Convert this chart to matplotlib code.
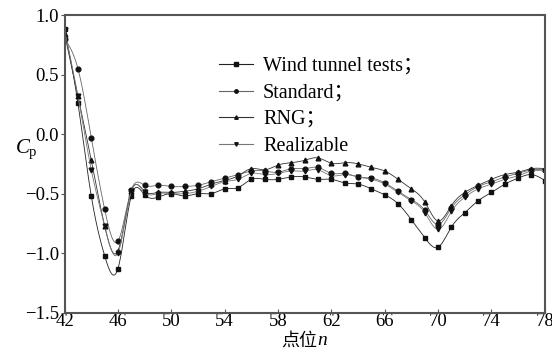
import numpy as np
import matplotlib.pyplot as plt
from matplotlib.lines import Line2D

plt.rcParams['font.family'] = ['Liberation Serif', 'Noto Sans CJK SC']
plt.rcParams['mathtext.fontset'] = 'custom'
plt.rcParams['mathtext.rm'] = 'Liberation Serif'
plt.rcParams['mathtext.it'] = 'Liberation Serif:italic'

# 测点编号
n = np.arange(42, 79)

wind = [0.88, 0.26, -0.52, -1.02, -1.13, -0.52, -0.51, -0.53, -0.50, -0.52,
        -0.50, -0.50, -0.46, -0.45, -0.38, -0.38, -0.38, -0.36, -0.36, -0.38,
        -0.38, -0.41, -0.42, -0.46, -0.51, -0.585, -0.72, -0.87, -0.95, -0.78,
        -0.66, -0.56, -0.49, -0.42, -0.37, -0.34, -0.39]
standard = [0.80, 0.55, -0.03, -0.63, -0.90, -0.47, -0.43, -0.43, -0.44, -0.44,
            -0.43, -0.40, -0.37, -0.34, -0.31, -0.31, -0.32, -0.29, -0.29, -0.28,
            -0.33, -0.33, -0.36, -0.37, -0.41, -0.48, -0.55, -0.64, -0.76, -0.62,
            -0.51, -0.44, -0.40, -0.36, -0.33, -0.30, -0.30]
rng = [0.84, 0.32, -0.22, -0.77, -0.98, -0.48, -0.48, -0.49, -0.49, -0.48,
       -0.46, -0.42, -0.39, -0.35, -0.29, -0.30, -0.26, -0.24, -0.22, -0.20,
       -0.245, -0.24, -0.25, -0.28, -0.31, -0.38, -0.46, -0.57, -0.73, -0.60,
       -0.49, -0.43, -0.38, -0.34, -0.32, -0.29, -0.29]
realizable = [0.87, 0.32, -0.30, -0.77, -1.00, -0.48, -0.49, -0.50, -0.50, -0.50,
              -0.48, -0.44, -0.40, -0.38, -0.33, -0.34, -0.33, -0.31, -0.31, -0.30,
              -0.35, -0.34, -0.36, -0.38, -0.42, -0.49, -0.56, -0.66, -0.80, -0.65,
              -0.53, -0.46, -0.42, -0.38, -0.35, -0.31, -0.31]

labels = ['Wind tunnel tests\uff1b', 'Standard\uff1b', 'RNG\uff1b', 'Realizable']
markers = ['s', 'o', '^', 'v']
colors = ['#222222', '#666666', '#333333', '#777777']
xticks = np.arange(42, 79, 4)
yticks = [1.0, 0.5, 0.0, -0.5, -1.0, -1.5]


def spline(x, y, num=600):
    # 自然三次样条
    x = np.asarray(x, float)
    y = np.asarray(y, float)
    k = len(x)
    h = np.diff(x)
    A = np.zeros((k, k))
    b = np.zeros(k)
    A[0, 0] = 1
    A[-1, -1] = 1
    for i in range(1, k - 1):
        A[i, i - 1] = h[i - 1]
        A[i, i] = 2 * (h[i - 1] + h[i])
        A[i, i + 1] = h[i]
        b[i] = 3 * ((y[i + 1] - y[i]) / h[i] - (y[i] - y[i - 1]) / h[i - 1])
    c = np.linalg.solve(A, b)
    xs = np.linspace(x[0], x[-1], num)
    idx = np.clip(np.searchsorted(x, xs) - 1, 0, k - 2)
    dx = xs - x[idx]
    bb = (y[idx + 1] - y[idx]) / h[idx] - h[idx] * (2 * c[idx] + c[idx + 1]) / 3
    dd = (c[idx + 1] - c[idx]) / (3 * h[idx])
    ys = y[idx] + bb * dx + c[idx] * dx ** 2 + dd * dx ** 3
    return xs, ys


fig = plt.figure(figsize=(5.52, 3.49), dpi=100)
ax = fig.add_axes([0.117, 0.104, 0.870, 0.853])

handles = []
for data, lab, m, col in zip([wind, standard, rng, realizable], labels, markers, colors):
    xs, ys = spline(n, data)
    ax.plot(xs, ys, color=col, lw=0.6)
    ax.plot(n, data, linestyle='none', marker=m, color='#111111', ms=3.4)
    handles.append(Line2D([], [], color=col, lw=0.8, marker=m, ms=2.5,
                          markerfacecolor='#111111', markeredgecolor='#111111'))

ax.set_xlim(42, 78)
ax.set_ylim(-1.5, 1.0)
ax.set_xticks(xticks)
ax.set_yticks(yticks)
ax.set_yticklabels(['1.0', '0.5', '0.0', '\u22120.5', '\u22121.0', '\u22121.5'])
ax.tick_params(axis='x', direction='in', length=3, labelsize=13.5, pad=0, color='#555555')
ax.tick_params(axis='y', direction='out', length=3, labelsize=13.5, pad=1, color='#555555')
for s in ax.spines.values():
    s.set_color('#555555')
    s.set_linewidth(1.5)

# x轴标题：中文 + 斜体 n
ax.text(0.527, -0.095, '点位', transform=ax.transAxes, ha='right', va='center',
        fontsize=13, family=['Noto Sans CJK SC'])
ax.text(0.527, -0.095, 'n', transform=ax.transAxes, ha='left', va='center',
        fontsize=14, style='italic')
ax.text(-0.079, 0.55, '$C_{\\mathrm{p}}$', transform=ax.transAxes, ha='center',
        va='center', fontsize=15)

ax.legend(handles, labels, loc='upper left', bbox_to_anchor=(0.30, 0.893),
          frameon=False, fontsize=14.5, handlelength=1.7, handletextpad=0.5,
          labelspacing=0.37, borderpad=0)

fig.savefig('out.png', dpi=100)
